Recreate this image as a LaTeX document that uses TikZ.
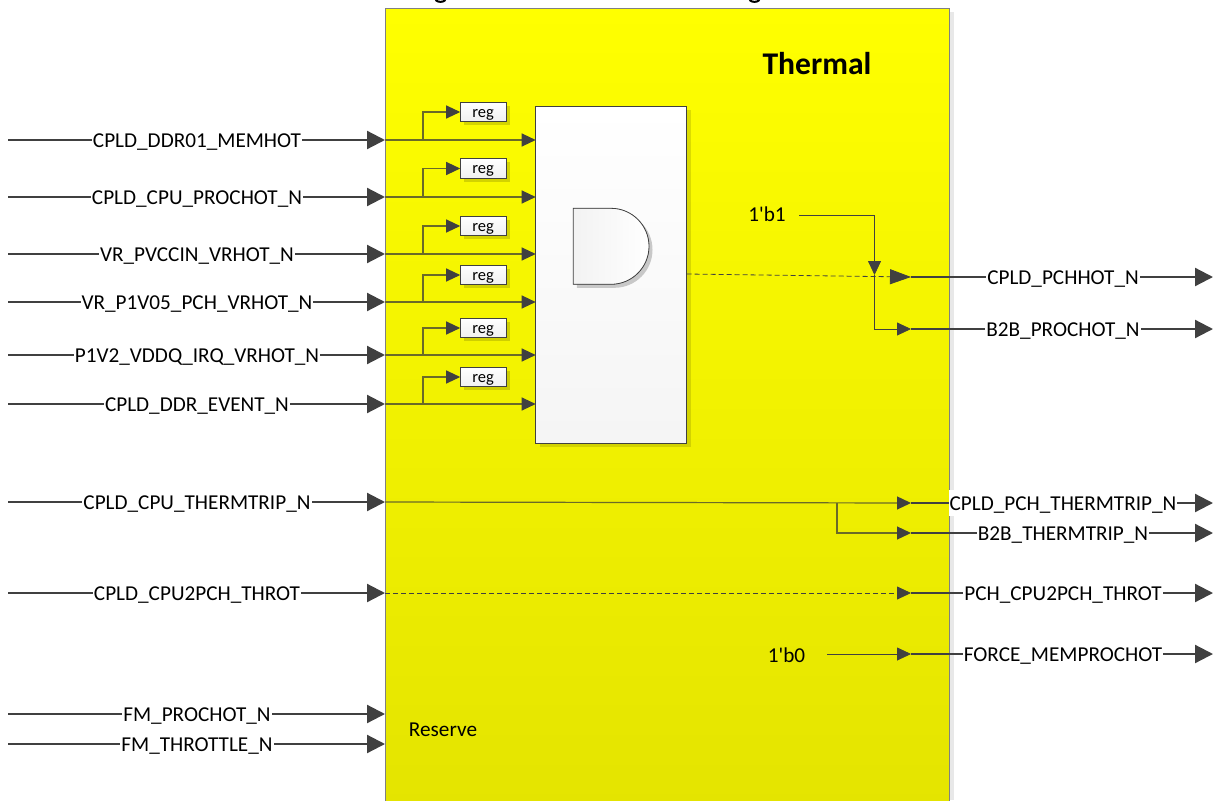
\documentclass[tikz,border=0pt]{standalone}
\usepackage{fontspec}
\setmainfont{Carlito}
\usetikzlibrary{arrows.meta,shadows}
\definecolor{linegray}{HTML}{404040}
\definecolor{innerline}{HTML}{6A6A28}
\tikzset{
  sigin/.style={draw=linegray,line width=2.2pt,-{Stealth[length=18pt,width=18pt,inset=0pt]}},
  inner/.style={draw=innerline,line width=1.2pt,-{Stealth[length=14pt,width=13pt,inset=0pt,color=linegray]}},
  thin/.style={inner,draw=linegray,line width=.8pt},
  dashline/.style={dash pattern=on 5pt off 3pt},
  sigtext/.style={fill=white,inner sep=1pt,text height=19pt,text depth=5pt,font=\fontsize{21.2}{23}\selectfont},
  plain/.style={inner sep=0pt,text height=19pt,text depth=5pt,font=\fontsize{21.2}{23}\selectfont},
  regbox/.style={draw=linegray,line width=.8pt,top color=white,bottom color=gray!12,minimum width=46pt,minimum height=19.5pt,inner sep=0pt,outer sep=0pt,text height=13pt,text depth=3pt,font=\fontsize{16.5}{17}\selectfont,drop shadow={shadow xshift=3.5pt,shadow yshift=-3.5pt,fill=black,opacity=.15}},
}
\begin{document}
\begin{tikzpicture}[x=1pt,y=-1pt]
\useasboundingbox (0,0) rectangle (1217,800);
% cut off letters at the top
\draw[line width=2pt] (435.5,0)..controls (438,2.5) and (443,2.5)..(445.5,0);
\draw[line width=2pt] (749.5,0)..controls (752,2.5) and (757,2.5)..(759.5,0);
% thermal block
\fill[gray!18] (949,12) rectangle (954,800);
\node[draw=gray,line width=1pt,anchor=north west,outer sep=0pt,top color=yellow,bottom color={rgb,255:red,228;green,228;blue,0},minimum width=564pt,minimum height=800pt,inner sep=0pt] (thermal) at (385.5,8.5) {};
\node[inner sep=0pt,font=\fontsize{31.6}{33}\selectfont\bfseries] (title) at (817,64) {Thermal};
\node[plain] (reserve) at (443,729) {Reserve};
% and gate
\node[draw=linegray,line width=.8pt,anchor=north west,outer sep=0pt,top color=white,bottom color=gray!8,minimum width=151pt,minimum height=337pt,inner sep=0pt,drop shadow={shadow xshift=4pt,shadow yshift=-4pt,fill=black,opacity=.12}] (mux) at (535.7,106.3) {};
\filldraw[draw=linegray,line width=.8pt,left color=gray!10,right color=white,drop shadow={shadow xshift=3.5pt,shadow yshift=-3.5pt,fill=black,opacity=.2}] (573.3,208.3)--(611,208.3) arc (-90:90:38)--(573.3,284.3)--cycle;
% inputs with reg tap
\foreach \nm/\txt/\y/\ry in {a/CPLD\_DDR01\_MEMHOT/140/112,b/CPLD\_CPU\_PROCHOT\_N/197/168.5,c/VR\_PVCCIN\_VRHOT\_N/254/226,d/VR\_P1V05\_PCH\_VRHOT\_N/302/275,e/P1V2\_VDDQ\_IRQ\_VRHOT\_N/355/328,f/CPLD\_DDR\_EVENT\_N/404/377}{
  \coordinate (s\nm) at (8,\y);
  \coordinate (e\nm) at (385,\y);
  \coordinate (m\nm) at (535.7,\y);
  \coordinate (t\nm) at (423,\y);
  \node[regbox] (r\nm) at (483.2,\ry) {reg};
  \draw[inner] (e\nm)--(m\nm);
  \draw[inner] (t\nm)|-(r\nm.west);
  \draw[sigin] (s\nm)--(e\nm);
  \node[sigtext] (l\nm) at (197,\y) {\txt};
}
% inputs without gate
\foreach \nm/\txt/\y in {g/CPLD\_CPU\_THERMTRIP\_N/502,h/CPLD\_CPU2PCH\_THROT/593,i/FM\_PROCHOT\_N/714,j/FM\_THROTTLE\_N/744}{
  \coordinate (s\nm) at (8,\y);
  \coordinate (e\nm) at (385,\y);
  \draw[sigin] (s\nm)--(e\nm);
  \node[sigtext] (l\nm) at (197,\y) {\txt};
}
% outputs
\foreach \nm/\txt/\y in {p/CPLD\_PCHHOT\_N/277,q/B2B\_PROCHOT\_N/329,s/B2B\_THERMTRIP\_N/533,t/PCH\_CPU2PCH\_THROT/593,u/FORCE\_MEMPROCHOT/654,r/CPLD\_PCH\_THERMTRIP\_N/503}{
  \coordinate (o\nm) at (911,\y);
  \coordinate (x\nm) at (1213,\y);
  \draw[sigin] (o\nm)--(x\nm);
  \node[sigtext] (l\nm) at (1063,\y) {\txt};
}
% inner wiring
\node[plain] (one) at (767,214) {1\textquotesingle b1};
\node[plain] (zero) at (786.5,655) {1\textquotesingle b0};
\coordinate (muxo) at (686.7,274);
\coordinate (onea) at (799,215);
\coordinate (onem) at (874.5,275);
\coordinate (ctrip) at (837,503);
\coordinate (zeroa) at (827,654);
\draw[thin,dashline,-{Stealth[length=21pt,width=15pt,inset=0pt,color=linegray]}] (muxo)--(op);
\draw[thin] (onea)-|(onem);
\draw[thin] (onem)|-(oq);
\draw[inner] (eg)--(or);
\draw[inner] (ctrip)|-(os);
\draw[thin,dashline] (eh)--(ot);
\draw[thin] (zeroa)--(ou);
\end{tikzpicture}
\end{document}
